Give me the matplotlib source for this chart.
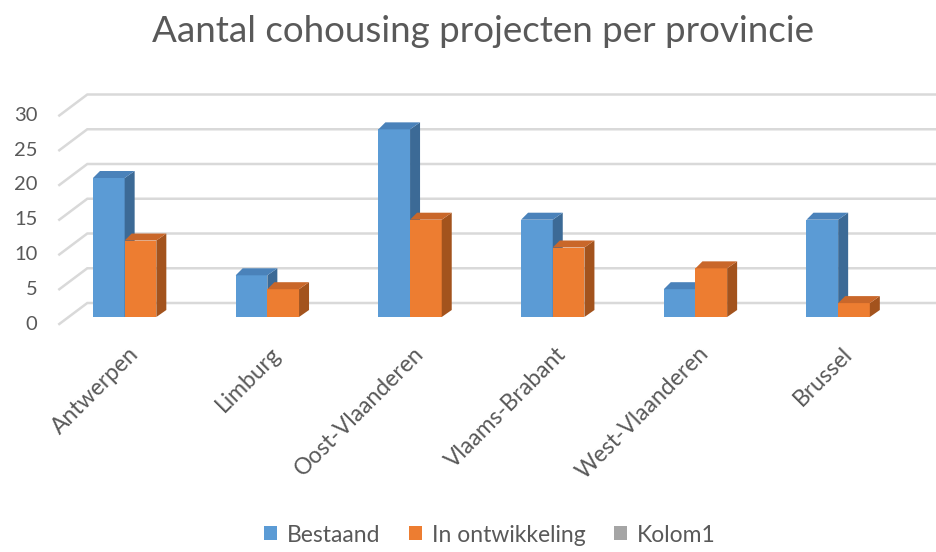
"""Pseudo-3D clustered bar chart: cohousing projects per province."""

import matplotlib

matplotlib.use("Agg")

import matplotlib.patches as mpatches
import matplotlib.pyplot as plt
from matplotlib.transforms import Affine2D

PROVINCES = [
    "Antwerpen",
    "Limburg",
    "Oost-Vlaanderen",
    "Vlaams-Brabant",
    "West-Vlaanderen",
    "Brussel",
]
BESTAAND = [20, 6, 27, 14, 4, 14]
IN_ONTWIKKELING = [11, 4, 14, 10, 7, 2]
SERIES_LABELS = ["Bestaand", "In ontwikkeling", "Kolom1"]
Y_TICKS = [0, 5, 10, 15, 20, 25, 30]

BLUE = ("#5B9BD5", "#3C6A96", "#4A82BA")     # front, side, top
ORANGE = ("#ED7D31", "#A3531D", "#C9672A")
GREY = "#A5A5A5"
GRID = "#D9D9D9"
TEXT = "#595959"
FONT = "Lato"

W, H = 937, 552
# front plane of the plot, in pixels from the top-left corner
LEFT, RIGHT, FLOOR, TOP = 53.3, 909.5, 317.0, 108.5
WALL_DX, WALL_DY = 28, 14      # back wall offset (display pixels, y up)
SIDE_DX, SIDE_DY = 6, -7       # front end of the side-wall lines
BAR_DX, BAR_DY = 10, 7         # bar depth
BAR_W = 0.222

plt.rcParams["font.family"] = [FONT, "DejaVu Sans"]

fig = plt.figure(figsize=(W / 100, H / 100), dpi=100)
ax = fig.add_axes([LEFT / W, 1 - FLOOR / H, (RIGHT - LEFT) / W, (FLOOR - TOP) / H])
n = len(PROVINCES)
ax.set_xlim(-0.5, n - 0.5)
ax.set_ylim(0, 30)
ax.axis("off")

px_x = (RIGHT - LEFT) / n
px_y = (FLOOR - TOP) / 30

# walls: back wall gridlines + the diagonal side-wall lines
for v in Y_TICKS:
    xl, y0 = ax.transData.transform((-0.5, v))
    xr, _ = ax.transData.transform((n - 0.5, v))
    back_l = (xl + WALL_DX + 6, y0 + WALL_DY)
    back_r = (xr + WALL_DX, y0 + WALL_DY)
    front = (xl + SIDE_DX, y0 + SIDE_DY)
    ax.plot([front[0], back_l[0], back_r[0]], [front[1], back_l[1], back_r[1]],
            color=GRID, lw=1.8, transform=None, clip_on=False, zorder=0,
            solid_joinstyle="miter")
    ax.text(front[0] - 22, front[1], str(v), transform=None, ha="right",
            va="center", fontsize=14.5, color=TEXT)

ddx = BAR_DX / px_x
ddy = BAR_DY / px_y


def draw_bars(xs, values, colors):
    front, side, top = colors
    ax.bar(xs, values, width=BAR_W, align="edge", color=front, zorder=3,
           clip_on=False)
    for x, v in zip(xs, values):
        x1 = x + BAR_W
        ax.add_patch(mpatches.Polygon(
            [(x1, 0), (x1, v), (x1 + ddx, v + ddy), (x1 + ddx, ddy)],
            closed=True, facecolor=side, edgecolor="none", zorder=3,
            clip_on=False))
        ax.add_patch(mpatches.Polygon(
            [(x, v), (x1, v), (x1 + ddx, v + ddy), (x + ddx * 0.7, v + ddy)],
            closed=True, facecolor=top, edgecolor="none", zorder=3,
            clip_on=False))


idx = list(range(n))
draw_bars([i - BAR_W for i in idx], BESTAAND, BLUE)
draw_bars(idx, IN_ONTWIKKELING, ORANGE)

label_shift = ax.transData + Affine2D().translate(3, -26)
for i, name in enumerate(PROVINCES):
    ax.text(i, 0, name, transform=label_shift, rotation=45,
            rotation_mode="anchor", ha="right", va="top", fontsize=16.5,
            color=TEXT)

fig.text(0.516, 1 - 31 / H, "Aantal cohousing projecten per provincie",
         ha="center", va="center", fontsize=26.5, color=TEXT)

handles = [
    mpatches.Patch(facecolor=BLUE[0], label=SERIES_LABELS[0]),
    mpatches.Patch(facecolor=ORANGE[0], label=SERIES_LABELS[1]),
    mpatches.Patch(facecolor=GREY, label=SERIES_LABELS[2]),
]
fig.legend(handles=handles, loc="center", ncol=3, frameon=False,
           bbox_to_anchor=(0.523, 1 - 535 / H), fontsize=16.5,
           handlelength=0.55, handleheight=0.55, handletextpad=0.45,
           columnspacing=1.25, labelcolor=TEXT)

fig.savefig("out.png", dpi=100, facecolor="white")
